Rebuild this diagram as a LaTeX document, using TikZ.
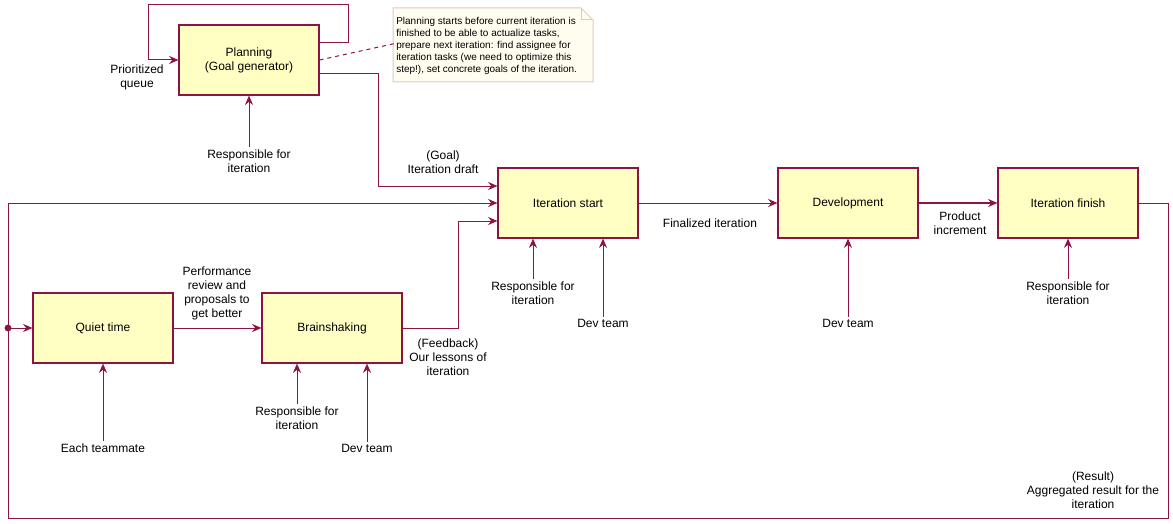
\documentclass[tikz,border=0pt]{standalone}
\usepackage{fontspec}
\setmainfont{Liberation Sans}
\usetikzlibrary{arrows.meta,calc}
\definecolor{wine}{HTML}{8E1344}
\definecolor{boxfill}{HTML}{FFFFC4}
\definecolor{notefill}{HTML}{FFFDF0}
\definecolor{noteline}{HTML}{E3C6C6}

\begin{document}
\begin{tikzpicture}[x=0.75pt,y=-0.75pt,
		proc/.style={draw=wine,fill=boxfill,line width=0.8pt,minimum width=105pt,minimum height=52.5pt,inner sep=0pt,align=center,font=\fontsize{9}{10.5}\selectfont},
		lbl/.style={inner sep=1.5pt,align=center,font=\fontsize{9}{10.5}\selectfont},
		flow/.style={draw=wine,line width=0.75pt,-{Stealth[length=7pt,width=6pt]}},
		wire/.style={draw=wine,line width=0.75pt}]
		\useasboundingbox (0,0) rectangle (1173,524);
		% boxes
		\node[proc] (plan) at (249,60) {Planning\\(Goal generator)};
		\node[proc] (start) at (568,203) {Iteration start};
		\node[proc] (dev) at (848,203) {Development};
		\node[proc] (finish) at (1068,203) {Iteration finish};
		\node[proc] (quiet) at (103,328) {Quiet time};
		\node[proc] (brain) at (332,328) {Brainshaking};
		% note with folded corner
		\filldraw[draw=noteline,fill=notefill,line width=0.75pt] (393,8) -- (581,8) -- (593,20) -- (593,82) -- (393,82) -- cycle;
		\draw[noteline,line width=0.75pt] (581,8) -- (581,20) -- (593,20);
		\node[anchor=north west,inner sep=0pt,align=left,font=\fontsize{7.5}{9}\selectfont] (memo) at (396,17) {Planning starts before current iteration is\\finished to be able to actualize tasks,\\prepare next iteration: find assignee for\\iteration tasks (we need to optimize this\\step!), set concrete goals of the iteration.};
		\draw[wine,dashed,line width=0.75pt] (plan.east) -- ([yshift=2pt]memo.west);
		% queue loop
		\coordinate (loopR) at (348,5);
		\coordinate (loopL) at (148,5);
		\draw[flow] ([yshift=12.75pt]plan.east) -| (loopR) -- (loopL) |- (plan.west);
		\node[lbl] (queue) at (137,77) {Prioritized\\queue};
		% main flow
		\draw[flow] ([yshift=-10.5pt]plan.east) -- ++(59,0) |- ([yshift=12.75pt]start.west);
		\node[lbl] (goal) at (443,162) {(Goal)\\Iteration draft};
		\draw[flow] (start) -- (dev);
		\node[lbl] (final) at (710,223) {Finalized iteration};
		\draw[flow,line width=1.1pt] (dev) -- (finish);
		\node[lbl] (incr) at (960,223) {Product\\increment};
		\draw[flow] (quiet) -- (brain);
		\node[lbl] (review) at (217,293) {Performance\\review and\\proposals to\\get better};
		\draw[flow] (brain.east) -- ++(56,0) |- ([yshift=-13.5pt]start.west);
		\node[lbl] (lesson) at (448,357) {(Feedback)\\Our lessons of\\iteration};
		% result goes back
		\coordinate (rc) at (1168,518);
		\coordinate (lc) at (8,518);
		\coordinate (tap) at (8,328);
		\draw[flow] (finish.east) -| (rc) -- (lc) |- (start.west);
		\fill[wine] (tap) circle (2.6pt);
		\draw[flow] (tap) -- (quiet.west);
		\node[lbl] (result) at (1093,490) {(Result)\\Aggregated result for the\\iteration};
		% actors
		\node[lbl] (resp1) at (249,161) {Responsible for\\iteration};
		\node[lbl] (resp2) at (533,293) {Responsible for\\iteration};
		\node[lbl] (resp3) at (1068,293) {Responsible for\\iteration};
		\node[lbl] (resp4) at (297,418) {Responsible for\\iteration};
		\node[lbl] (team1) at (603,323) {Dev team};
		\node[lbl] (team2) at (848,323) {Dev team};
		\node[lbl] (team3) at (367,448) {Dev team};
		\node[lbl] (mate) at (103,448) {Each teammate};
		\draw[flow] (resp1.north) -- (resp1.north |- plan.south);
		\draw[flow] (resp2.north) -- (resp2.north |- start.south);
		\draw[flow] (team1.north) -- (team1.north |- start.south);
		\draw[flow] (team2.north) -- (team2.north |- dev.south);
		\draw[flow] (resp3.north) -- (resp3.north |- finish.south);
		\draw[flow] (mate.north) -- (mate.north |- quiet.south);
		\draw[flow] (resp4.north) -- (resp4.north |- brain.south);
		\draw[flow] (team3.north) -- (team3.north |- brain.south);
	\end{tikzpicture}
\end{document}
